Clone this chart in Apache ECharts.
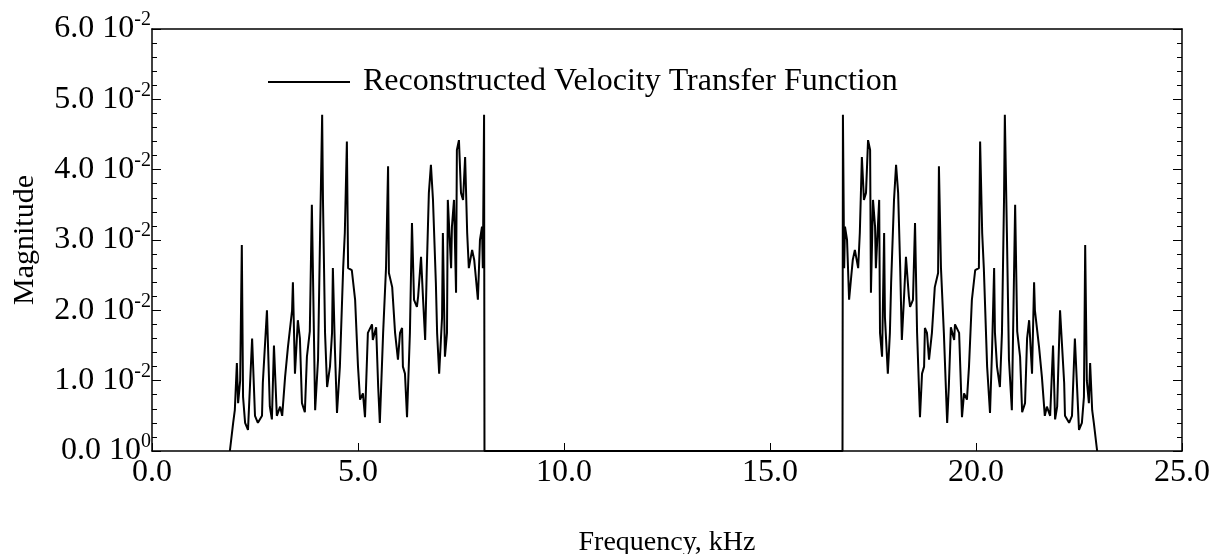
<!DOCTYPE html>
<html>
<head>
<meta charset="utf-8">
<script src="https://cdn.jsdelivr.net/npm/echarts@6/dist/echarts.min.js"></script>
<style>
html,body{margin:0;padding:0;background:#fff;}
#chart{width:1212px;height:554px;}
</style>
</head>
<body>
<div id="chart"></div>
<script>
// Lower band (kHz) and magnitude
const lowerFreq = [
  1.89,1.97,2.01,2.06,2.09,2.14,2.18,2.21,2.26,2.33,
  2.43,2.50,2.57,2.67,2.69,2.79,2.86,2.91,2.96,3.03,
  3.11,3.16,3.23,3.30,3.40,3.42,3.47,3.54,3.59,3.64,
  3.71,3.76,3.83,3.88,3.96,4.03,4.08,4.13,4.15,4.20,
  4.25,4.32,4.37,4.39,4.44,4.49,4.56,4.64,4.68,4.73,
  4.76,4.85,4.93,5.00,5.05,5.12,5.17,5.24,5.34,5.36,
  5.44,5.49,5.53,5.61,5.68,5.73,5.75,5.83,5.90,5.97,
  6.02,6.07,6.09,6.14,6.19,6.26,6.31,6.36,6.43,6.46,
  6.53,6.58,6.63,6.67,6.72,6.77,6.82,6.89,6.92,6.97,
  7.04,7.06,7.11,7.16,7.18,7.26,7.28,7.33,7.38,7.40,
  7.45,7.50,7.55,7.60,7.65,7.69,7.77,7.82,7.86,7.91,
  7.96,8.01,8.03,8.06,8.07
];
const lowerMag = [
  0,.0040,.0058,.0125,.0068,.0100,.0293,.0077,.0040,.0030,
  .0160,.0050,.0040,.0050,.0097,.0200,.0063,.0045,.0150,.0050,
  .0063,.0050,.0105,.0148,.0200,.0240,.0110,.0186,.0160,.0068,
  .0055,.0134,.0170,.0350,.0058,.0130,.0310,.0478,.0357,.0168,
  .0091,.0120,.0168,.0260,.0144,.0054,.0120,.0260,.0310,.0440,
  .0260,.0257,.0215,.0120,.0073,.0082,.0048,.0168,.0180,.0158,
  .0176,.0091,.0040,.0168,.0260,.0405,.0253,.0233,.0168,.0130,
  .0168,.0175,.0120,.0110,.0048,.0168,.0324,.0215,.0205,.0220,
  .0276,.0215,.0158,.0260,.0367,.0407,.0357,.0239,.0168,.0110,
  .0190,.0310,.0134,.0168,.0357,.0260,.0319,.0357,.0225,.0428,
  .0442,.0367,.0357,.0418,.0310,.0260,.0286,.0272,.0247,.0215,
  .0300,.0319,.0260,.0478,0
];
// Upper (mirror) band
const upperFreq = [
  16.76,16.77,16.80,16.82,16.87,
  16.92,16.97,17.01,17.06,17.14,17.18,17.23,17.28,17.33,17.38,
  17.43,17.45,17.50,17.55,17.57,17.65,17.67,17.72,17.77,17.79,
  17.86,17.91,17.94,18.01,18.06,18.11,18.16,18.20,18.25,18.30,
  18.37,18.40,18.47,18.52,18.57,18.64,18.69,18.74,18.76,18.81,
  18.86,18.93,19.00,19.08,19.10,19.15,19.22,19.30,19.34,19.39,
  19.47,19.49,19.59,19.66,19.71,19.78,19.83,19.90,19.98,20.07,
  20.10,20.15,20.19,20.27,20.34,20.39,20.44,20.46,20.51,20.58,
  20.63,20.68,20.70,20.75,20.80,20.87,20.95,21.00,21.07,21.12,
  21.19,21.24,21.29,21.36,21.41,21.43,21.53,21.60,21.67,21.72,
  21.80,21.87,21.92,21.97,22.04,22.14,22.16,22.26,22.33,22.40,
  22.50,22.57,22.62,22.65,22.69,22.74,22.77,22.82,22.86,22.94
];
const upperMag = [
  0,.0478,.0260,.0319,.0300,
  .0215,.0247,.0272,.0286,.0260,.0310,.0418,.0357,.0367,.0442,
  .0428,.0225,.0357,.0319,.0260,.0357,.0168,.0134,.0310,.0190,
  .0110,.0168,.0239,.0357,.0407,.0367,.0260,.0158,.0215,.0276,
  .0220,.0205,.0215,.0324,.0168,.0048,.0110,.0120,.0175,.0168,
  .0130,.0168,.0233,.0253,.0405,.0260,.0168,.0040,.0091,.0176,
  .0158,.0180,.0168,.0048,.0082,.0073,.0120,.0215,.0257,.0260,
  .0440,.0310,.0260,.0120,.0054,.0144,.0260,.0168,.0120,.0091,
  .0168,.0357,.0478,.0310,.0130,.0058,.0350,.0170,.0134,.0055,
  .0068,.0160,.0186,.0110,.0240,.0200,.0148,.0105,.0050,.0063,
  .0050,.0150,.0045,.0063,.0200,.0097,.0050,.0040,.0050,.0160,
  .0030,.0040,.0077,.0293,.0100,.0068,.0125,.0058,.0040,0
];
const xTicks = [0, 5, 10, 15, 20, 25];
const yTicks = [0, 0.01, 0.02, 0.03, 0.04, 0.05, 0.06];
const seriesName = 'Reconstructed Velocity Transfer Function';

const data = [];
lowerFreq.forEach((f, i) => data.push([f, lowerMag[i]]));
upperFreq.forEach((f, i) => data.push([f, upperMag[i]]));

const FONT = 'Liberation Serif';
const chart = echarts.init(document.getElementById('chart'), null, {renderer: 'canvas'});
const yLabelFmt = v => {
  const m = (v * 100).toFixed(1);
  const e = Math.abs(v) < 1e-12 ? '0' : '-2';
  return '{n|' + m + ' 10}{s|' + e + '}';
};
chart.setOption({
  animation: false,
  backgroundColor: '#fff',
  textStyle: {fontFamily: FONT, color: '#000'},
  grid: {left: 152, right: 30, top: 29, bottom: 103, containLabel: false, outerBoundsMode: 'none'},
  legend: {
    left: 263, top: 61,
    itemWidth: 82, itemHeight: 2, itemGap: 10,
    icon: 'rect',
    textStyle: {fontFamily: FONT, fontSize: 32, color: '#000', padding: [0, 0, 0, 8]},
    data: [seriesName]
  },
  xAxis: [{
    type: 'value', min: xTicks[0], max: xTicks[xTicks.length - 1], interval: 5,
    name: 'Frequency, kHz', nameLocation: 'middle', nameGap: 78,
    nameTextStyle: {fontFamily: FONT, fontSize: 28, color: '#000'},
    axisLine: {show: true, onZero: false, lineStyle: {color: '#000', width: 1.5}},
    axisTick: {show: true, inside: true, length: 8, lineStyle: {color: '#000'}},
    axisLabel: {fontFamily: FONT, fontSize: 32, color: '#000', margin: 6, formatter: v => v.toFixed(1)},
    splitLine: {show: false}
  }, {
    type: 'value', position: 'top', min: 0, max: 25, interval: 5,
    axisLine: {show: true, onZero: false, lineStyle: {color: '#000', width: 1.5}},
    axisTick: {show: false}, axisLabel: {show: false}, splitLine: {show: false}
  }],
  yAxis: [{
    type: 'value', min: yTicks[0], max: yTicks[yTicks.length - 1], interval: 0.01,
    name: 'Magnitude', nameLocation: 'middle', nameGap: 112, nameRotate: 90,
    nameTextStyle: {fontFamily: FONT, fontSize: 30, color: '#000'},
    axisLine: {show: true, onZero: false, lineStyle: {color: '#000', width: 1.5}},
    axisTick: {show: true, inside: true, length: 9, lineStyle: {color: '#000'}},
    minorTick: {show: true, splitNumber: 5, length: 5, lineStyle: {color: '#000'}},
    axisLabel: {
      margin: 1, formatter: yLabelFmt,
      rich: {
        n: {fontFamily: FONT, fontSize: 32, color: '#000'},
        s: {fontFamily: FONT, fontSize: 20, color: '#000', padding: [0, 0, 18, 0]}
      }
    },
    splitLine: {show: false}
  }, {
    type: 'value', position: 'right', min: 0, max: 0.06, interval: 0.01,
    axisLine: {show: true, onZero: false, lineStyle: {color: '#000', width: 1.5}},
    axisTick: {show: true, inside: true, length: 9, lineStyle: {color: '#000'}},
    minorTick: {show: true, splitNumber: 5, length: 5, lineStyle: {color: '#000'}},
    axisLabel: {show: false}, splitLine: {show: false}
  }],
  series: [{
    name: seriesName, type: 'line', data: data,
    showSymbol: false, symbol: 'none',
    lineStyle: {color: '#000', width: 2},
    itemStyle: {color: '#000'}
  }]
});
</script>
</body>
</html>
